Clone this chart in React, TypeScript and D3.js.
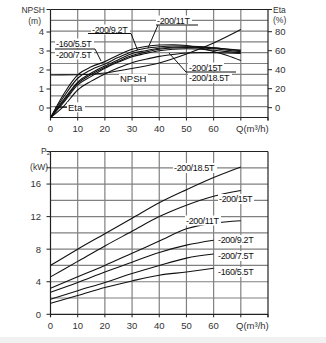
import React from "react";
import * as d3 from "d3";

// ---------- data ----------
const qEta = [0, 5, 10, 15, 20, 25, 30, 35, 40, 45, 50, 55, 60, 65, 70];
const eta160_55 = [-10.5, 15, 34.5, 43, 48.5, 55.5, 61.5, 64.5, 66, 66.3, 65.5, 63, 59.2, 55, 49.7];
const eta200_75 = [-10.5, 12, 31, 40, 46, 53, 59, 62.5, 64.2, 65, 65, 64.3, 63, 61.8, 60.7];
const eta200_92 = [-10.5, 9, 27, 36.5, 43.9, 50.5, 57, 60, 62.5, 63.6, 64, 63.8, 63, 61.5, 60];
const eta200_11 = [-10.5, 7.5, 25.5, 35, 42.5, 49, 55, 58.5, 61.5, 62.8, 63.2, 63, 62, 60.5, 59];
const eta200_15 = [-10.5, 6, 24, 33, 41.5, 48, 53.7, 57, 60, 61.5, 62, 61.5, 60.5, 59, 57.8];
const eta200_185 = [-10.5, 2, 18.6, 28, 35.5, 42, 47.4, 51, 54, 56, 57.5, 58, 58, 57.5, 57];

const qNpsh = [0, 10, 20, 30, 40, 50, 60, 70];
const npsh = [1.74, 1.75, 1.84, 2.08, 2.37, 2.84, 3.42, 4.13];

const qP = [0, 10, 20, 30, 40, 50, 60, 70];
const p200_185 = [6.0, 8.0, 9.9, 11.8, 13.7, 15.3, 16.8, 18.1];
const p200_15 = [4.6, 6.5, 8.4, 10.2, 12.0, 13.4, 14.5, 15.2];
const p200_11 = [3.2, 4.6, 6.0, 7.5, 9.0, 10.5, 11.2, 11.5];
const p200_92 = [2.7, 3.9, 5.2, 6.4, 7.6, 8.5, 9.1];
const p200_75 = [1.85, 2.9, 3.9, 5.0, 6.0, 6.9, 7.4];
const p160_55 = [1.35, 2.3, 3.3, 4.1, 4.8, 5.2, 5.65];

const xTicks = [0, 10, 20, 30, 40, 50, 60];
const gridQ = [10, 20, 30, 40, 50, 60, 70];
const npshTicks = [0, 1, 2, 3, 4];
const etaTicks = [0, 20, 40, 60, 80];
const pTicks = [0, 4, 8, 12, 16];
const pGrid = [2, 4, 6, 8, 10, 12, 14, 16, 18];

// ---------- scales ----------
const x = d3.scaleLinear().domain([0, 80]).range([50.5, 268]);
const gridY = d3.scaleLinear().domain([0, 10]).range([117.5, 9.5]);
const npshY = d3.scaleLinear().domain([0, 4]).range([108, 32]);
const etaY = d3.scaleLinear().domain([0, 80]).range([107.7, 31.7]);
const pY = d3.scaleLinear().domain([0, 20]).range([314.3, 151.5]);

const FONT = "'Liberation Sans', Arial, sans-serif";
const GRID = "#808080";
const AX = "#222";

function lineOf(qs: number[], vs: number[], ys: (v: number) => number) {
  const gen = d3
    .line<number>()
    .x((_, i) => x(qs[i]))
    .y((v) => ys(v))
    .curve(d3.curveMonotoneX);
  return gen(vs) || "";
}

type Lbl = { t: string; x: number; y: number; w: number };

function LabelBox({ l }: { l: Lbl }) {
  return <rect x={l.x - 1} y={l.y - 5} width={l.w + 2} height={10} fill="#fff" />;
}
function LabelText({ l }: { l: Lbl }) {
  return (
    <text x={l.x} y={l.y} dy="0.35em" fontSize={9} letterSpacing={-0.35} fill="#111" fontFamily={FONT}>
      {l.t}
    </text>
  );
}

export default function App() {
  const etaSeries = [eta160_55, eta200_75, eta200_92, eta200_11, eta200_15, eta200_185];
  const pSeries = [p200_185, p200_15, p200_11, p200_92, p200_75, p160_55];

  const topLabels: Lbl[] = [
    { t: "-160/5.5T", x: 56, y: 43.5, w: 37 },
    { t: "-200/7.5T", x: 56, y: 54.5, w: 37 },
    { t: "-200/9.2T", x: 92, y: 29.5, w: 37 },
    { t: "-200/11T", x: 157, y: 20.5, w: 34 },
    { t: "-200/15T", x: 189, y: 67.5, w: 34 },
    { t: "-200/18.5T", x: 189, y: 78, w: 42 },
  ];
  const npshLabel: Lbl = { t: "NPSH", x: 120, y: 79, w: 27 };
  const etaLabel: Lbl = { t: "Eta", x: 68, y: 107.3, w: 16 };

  const botLabels: Lbl[] = [
    { t: "-200/18.5T", x: 174, y: 168, w: 42 },
    { t: "-200/15T", x: 219, y: 199, w: 34 },
    { t: "-200/11T", x: 186, y: 220.5, w: 34 },
    { t: "-200/9.2T", x: 218, y: 240, w: 37 },
    { t: "-200/7.5T", x: 218, y: 256, w: 37 },
    { t: "-160/5.5T", x: 218, y: 272, w: 37 },
  ];

  const tickTxt = { fontSize: 9.5, fill: "#333", fontFamily: FONT } as const;
  const unitTxt = { fontSize: 8.5, fill: "#333", fontFamily: FONT } as const;

  return (
    <svg
      width={326}
      height={343}
      style={{ position: "absolute", left: 0, top: 0, background: "#fff" }}
    >
      <rect x={0} y={337} width={326} height={6} fill="#f1f1f1" />

      {/* ================= TOP CHART ================= */}
      <g>
        {d3.range(1, 10).map((i) => (
          <line key={"tg" + i} x1={x(0)} x2={x(80)} y1={gridY(i)} y2={gridY(i)} stroke={GRID} strokeWidth={1.2} />
        ))}
        {gridQ.map((q) => (
          <line key={"tv" + q} x1={x(q)} x2={x(q)} y1={gridY(0)} y2={gridY(10)} stroke={GRID} strokeWidth={1.2} />
        ))}
        <line x1={x(0)} x2={x(80)} y1={gridY(10)} y2={gridY(10)} stroke={AX} strokeWidth={1.1} />
        <line x1={x(0)} x2={x(80)} y1={gridY(0)} y2={gridY(0)} stroke={AX} strokeWidth={1.2} />
        <line x1={x(0)} x2={x(0)} y1={gridY(0) + 3} y2={gridY(10)} stroke={AX} strokeWidth={1.2} />
        <line x1={x(80)} x2={x(80)} y1={gridY(0) + 3} y2={gridY(10)} stroke={AX} strokeWidth={1.2} />
        {[...gridQ, 80].map((q) => (
          <line key={"tbt" + q} x1={x(q)} x2={x(q)} y1={gridY(0)} y2={gridY(0) + 3} stroke={AX} strokeWidth={1} />
        ))}
        {npshTicks.map((v) => (
          <line key={"nt" + v} x1={x(0) - 4} x2={x(0)} y1={npshY(v)} y2={npshY(v)} stroke={AX} strokeWidth={1} />
        ))}
        <line x1={x(0) - 4} x2={x(0)} y1={gridY(10)} y2={gridY(10)} stroke={AX} strokeWidth={1} />
        {etaTicks.map((v) => (
          <line key={"et" + v} x1={x(80)} x2={x(80) + 4} y1={etaY(v)} y2={etaY(v)} stroke={AX} strokeWidth={1} />
        ))}
        <line x1={x(80)} x2={x(80) + 4} y1={gridY(10)} y2={gridY(10)} stroke={AX} strokeWidth={1} />

        {etaSeries.map((s, i) => (
          <path key={"eta" + i} d={lineOf(qEta, s, etaY)} fill="none" stroke="#111" strokeWidth={1.1} />
        ))}
        <path d={lineOf(qNpsh, npsh, npshY)} fill="none" stroke="#111" strokeWidth={1.1} />

        {topLabels.map((l) => (
          <LabelBox key={"tb" + l.t} l={l} />
        ))}
        <LabelBox l={npshLabel} />
        <LabelBox l={etaLabel} />

        <line x1={55} x2={95} y1={49} y2={49} stroke="#111" strokeWidth={1} />
        <line x1={95} x2={101} y1={49} y2={61} stroke="#111" strokeWidth={1} />
        <line x1={88} x2={131} y1={33.5} y2={33.5} stroke="#111" strokeWidth={1} />
        <line x1={131} x2={137.5} y1={33.5} y2={50} stroke="#111" strokeWidth={1} />
        <line x1={156} x2={198} y1={25} y2={25} stroke="#111" strokeWidth={1} />
        <line x1={158} x2={148} y1={25} y2={48} stroke="#111" strokeWidth={1} />
        <line x1={186} x2={236} y1={72} y2={72} stroke="#111" strokeWidth={1} />
        <line x1={186} x2={169} y1={72} y2={53} stroke="#111" strokeWidth={1} />
        <line x1={55} x2={67} y1={107.3} y2={107.3} stroke="#111" strokeWidth={1} />

        {topLabels.map((l) => (
          <LabelText key={"tt" + l.t} l={l} />
        ))}
        <text x={npshLabel.x} y={npshLabel.y} dy="0.35em" fontSize={9.5} fill="#111" fontFamily={FONT}>
          {npshLabel.t}
        </text>
        <text x={etaLabel.x} y={etaLabel.y} dy="0.35em" fontSize={9.5} fill="#111" fontFamily={FONT}>
          {etaLabel.t}
        </text>

        {npshTicks.map((v) => (
          <text key={"nl" + v} x={44} y={npshY(v)} dy="0.35em" textAnchor="end" {...tickTxt}>
            {v}
          </text>
        ))}
        {etaTicks.map((v) => (
          <text key={"el" + v} x={275} y={etaY(v)} dy="0.35em" {...tickTxt}>
            {v}
          </text>
        ))}
        {xTicks.map((v) => (
          <text key={"xl" + v} x={x(v)} y={128.3} dy="0.35em" textAnchor="middle" {...tickTxt}>
            {v}
          </text>
        ))}
        <text x={236} y={128.3} dy="0.35em" {...tickTxt}>
          Q(m³/h)
        </text>
        <text x={45} y={10} dy="0.35em" textAnchor="end" {...unitTxt}>
          NPSH
        </text>
        <text x={41} y={21} dy="0.35em" textAnchor="end" {...unitTxt}>
          (m)
        </text>
        <text x={273} y={10.5} dy="0.35em" {...unitTxt}>
          Eta
        </text>
        <text x={273} y={20.5} dy="0.35em" {...unitTxt}>
          (%)
        </text>
      </g>

      {/* ================= BOTTOM CHART ================= */}
      <g>
        {pGrid.map((v) => (
          <line key={"pg" + v} x1={x(0)} x2={x(80)} y1={pY(v)} y2={pY(v)} stroke={GRID} strokeWidth={1.2} />
        ))}
        {gridQ.map((q) => (
          <line key={"pv" + q} x1={x(q)} x2={x(q)} y1={pY(0)} y2={pY(20)} stroke={GRID} strokeWidth={1.2} />
        ))}
        <line x1={x(0)} x2={x(80)} y1={pY(20)} y2={pY(20)} stroke={AX} strokeWidth={1.1} />
        <line x1={x(0)} x2={x(80)} y1={pY(0)} y2={pY(0)} stroke={AX} strokeWidth={1.2} />
        <line x1={x(0)} x2={x(0)} y1={pY(0) + 3} y2={pY(20)} stroke={AX} strokeWidth={1.2} />
        <line x1={x(80)} x2={x(80)} y1={pY(0) + 3} y2={pY(20)} stroke={AX} strokeWidth={1.2} />
        {[...gridQ, 80].map((q) => (
          <line key={"pbt" + q} x1={x(q)} x2={x(q)} y1={pY(0)} y2={pY(0) + 3} stroke={AX} strokeWidth={1} />
        ))}
        {[...pTicks, 18, 20].map((v) => (
          <line key={"pt" + v} x1={x(0) - 4} x2={x(0)} y1={pY(v)} y2={pY(v)} stroke={AX} strokeWidth={1} />
        ))}

        {pSeries.map((s, i) => (
          <path key={"p" + i} d={lineOf(qP, s, pY)} fill="none" stroke="#111" strokeWidth={1.1} />
        ))}

        {botLabels.map((l) => (
          <LabelBox key={"bb" + l.t} l={l} />
        ))}
        {botLabels.map((l) => (
          <LabelText key={"bt" + l.t} l={l} />
        ))}

        {pTicks.map((v) => (
          <text key={"pl" + v} x={41} y={pY(v)} dy="0.35em" textAnchor="end" {...tickTxt}>
            {v}
          </text>
        ))}
        {xTicks.map((v) => (
          <text key={"bxl" + v} x={x(v)} y={325.7} dy="0.35em" textAnchor="middle" {...tickTxt}>
            {v}
          </text>
        ))}
        <text x={236} y={325.7} dy="0.35em" {...tickTxt}>
          Q(m³/h)
        </text>
        <text x={41} y={151} dy="0.35em" {...unitTxt}>
          P<tspan fontSize={6} dy={1.5}>2</tspan>
        </text>
        <text x={48} y={167.5} dy="0.35em" textAnchor="end" {...unitTxt}>
          (kW)
        </text>
      </g>
    </svg>
  );
}
